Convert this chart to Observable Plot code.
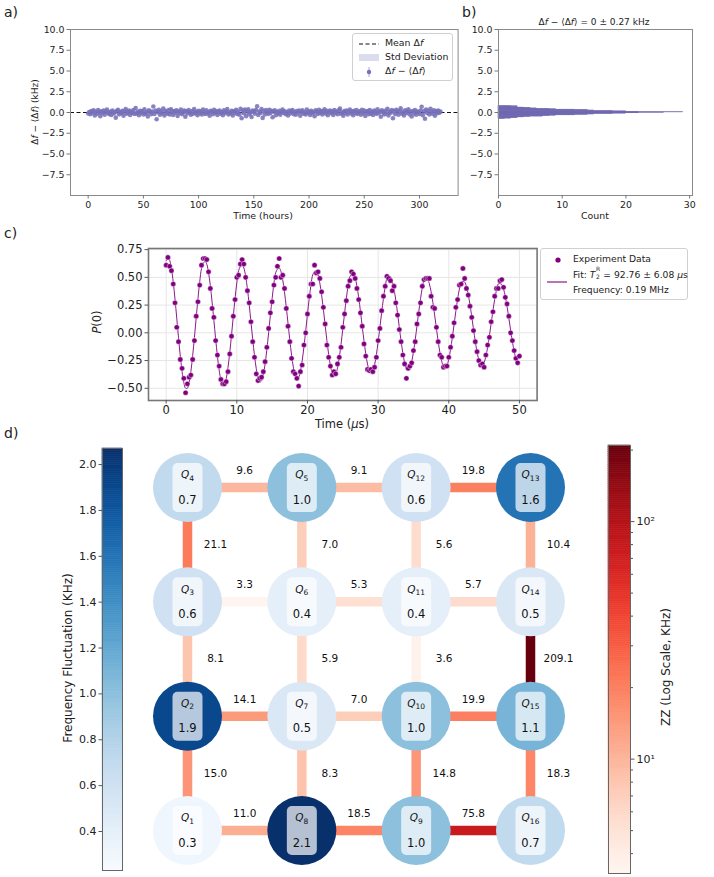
<!DOCTYPE html>
<html><head><meta charset="utf-8">
<script src="https://cdn.jsdelivr.net/npm/d3@7"></script>
<script src="https://cdn.jsdelivr.net/npm/@observablehq/plot@0.6"></script>
<style>
body{margin:0;background:#fff;}
#root{position:relative;width:714px;height:877px;font-family:"DejaVu Sans",sans-serif;color:#222;overflow:hidden;background:#fff}
.abs{position:absolute}
.lbl{position:absolute;white-space:nowrap;font-family:"DejaVu Sans",sans-serif;color:#222;line-height:1}
.box{position:absolute;border:1px solid #d0d0d0;border-radius:3px;background:rgba(255,255,255,0.85);font-family:"DejaVu Sans",sans-serif;color:#222}
.box .row{position:absolute;left:0;white-space:nowrap;line-height:1}
</style></head><body><div id="root"></div>
<script>
// ---------------- DATA ----------------
// a) frequency drift vs time (one point per hour)
const driftStartHour = 0, driftStepHour = 1;
const driftKHz = [
-0.12,0.05,-0.21,0.18,-0.03,0.27,-0.35,0.09,-0.16,0.31,0.02,-0.44,0.14,-0.08,0.22,-0.27,0.11,0.36,-0.05,-0.19,
0.08,-0.31,0.25,-0.12,0.04,-0.62,0.17,0.33,-0.22,0.06,-0.09,0.19,-0.38,0.13,0.42,-0.15,0.01,0.24,-0.29,0.10,
-0.06,0.29,-0.18,0.55,-0.11,0.07,-0.33,0.21,-0.04,0.16,-0.24,0.38,-0.13,0.03,-0.47,0.26,0.09,-0.20,0.12,0.72,
-0.17,0.23,-0.81,0.05,0.34,-0.26,0.14,-0.09,0.48,-0.36,0.20,0.02,-0.14,0.31,-0.23,0.40,0.08,-0.30,0.17,-0.02,
0.26,-0.42,0.11,-0.07,0.35,-0.19,0.04,0.22,-0.50,0.15,-0.10,0.30,0.01,-0.28,0.18,-0.15,0.43,-0.05,0.09,-0.34,
0.21,-0.08,0.13,-0.25,0.37,0.00,-0.18,0.27,-0.12,0.06,-0.39,0.19,0.10,-0.21,0.32,-0.03,0.16,-0.29,0.08,0.24,
-0.14,0.05,-0.32,0.28,-0.06,0.12,0.41,-0.23,0.03,-0.11,0.20,-0.37,0.15,-0.02,0.33,-0.17,0.07,-0.26,0.45,-0.70,
0.22,-0.09,0.36,-0.44,0.14,0.39,-0.20,0.04,-0.55,0.25,0.10,-0.13,0.30,0.76,-0.31,0.12,-0.05,0.43,-0.65,0.18,
-0.24,0.29,0.02,-0.16,0.34,-0.07,0.20,-0.58,0.11,0.26,-0.33,0.05,-0.12,0.19,-0.27,0.08,0.37,-0.04,0.15,-0.21,
0.03,-0.36,0.23,-0.10,0.13,0.31,-0.19,0.06,-0.28,0.17,-0.01,0.24,-0.40,0.09,0.28,-0.14,0.02,-0.23,0.35,-0.06,
0.12,-0.30,0.21,-0.08,0.04,-0.45,0.27,0.10,-0.17,0.33,-0.02,0.16,-0.25,0.07,0.40,-0.12,0.19,-0.34,0.05,0.23,
-0.09,0.14,-0.29,0.30,-0.03,0.11,-0.21,0.26,0.47,-0.15,0.01,-0.38,0.18,-0.07,0.25,-0.24,0.09,0.36,-0.11,0.13,
-0.33,0.20,-0.05,0.29,-0.18,0.06,0.15,-0.27,0.34,-0.10,0.22,-0.42,0.03,0.17,-0.20,0.31,-0.14,0.08,-0.31,0.24,
0.02,-0.16,0.38,-0.08,0.12,-0.52,0.27,0.05,-0.23,0.19,-0.12,0.44,-0.35,0.10,-0.02,0.29,-0.69,0.16,-0.19,0.33,
0.07,-0.26,0.21,0.52,-0.13,0.04,-0.37,0.26,-0.06,0.14,0.39,-0.22,0.09,-0.48,0.18,-0.10,0.30,-0.28,0.11,0.03,
-0.17,0.25,0.70,-0.32,0.13,-0.76,0.35,-0.05,0.20,-0.24,0.45,0.06,-0.14,0.27,-0.40,0.16,-0.08,0.22,-0.02,0.10];
const driftErrKHz = 0.12;
const driftMeanKHz = 0;
const driftStdKHz = 0.27;
const driftXTicks = [0,50,100,150,200,250,300];
const driftYTicks = [-7.5,-5,-2.5,0,2.5,5,7.5,10];

// b) histogram of drift
const histBinStart = -0.80, histBinWidth = 0.05;
const histCounts = [1,2,3,3,4,5,7,8,9,12,14,15,18,20,22,26,29,22,20,18,15,14,12,9,8,6,5,4,3,3,2,3];
const histXTicks = [0,10,20,30];

// c) Ramsey measurement
const ramseyStepUs = 0.25;
const ramseyP0 = [
0.61,0.68,0.60,0.56,0.44,0.27,0.05,-0.08,-0.24,-0.32,-0.41,-0.54,-0.46,-0.40,-0.38,-0.24,-0.07,0.15,0.28,0.43,0.61,
0.67,0.67,0.66,0.55,0.40,0.22,0.14,-0.07,-0.20,-0.30,-0.42,-0.46,-0.46,-0.44,-0.35,-0.19,-0.03,0.15,0.30,0.50,0.52,
0.62,0.66,0.62,0.50,0.38,0.27,0.10,-0.08,-0.22,-0.37,-0.43,-0.41,-0.40,-0.35,-0.26,-0.13,0.04,0.18,0.28,0.43,0.50,
0.60,0.67,0.50,0.52,0.40,0.22,0.06,-0.08,-0.23,-0.35,-0.37,-0.41,-0.48,-0.35,-0.29,-0.11,0.00,0.17,0.33,0.44,0.44,
0.61,0.54,0.55,0.49,0.37,0.23,0.08,-0.11,-0.22,-0.30,-0.38,-0.35,-0.37,-0.28,-0.22,-0.13,0.05,0.17,0.29,0.42,0.47,
0.55,0.53,0.49,0.40,0.30,0.18,0.06,-0.10,-0.21,-0.33,-0.34,-0.33,-0.35,-0.31,-0.22,-0.07,0.04,0.20,0.33,0.42,0.51,
0.49,0.47,0.38,0.42,0.27,0.16,0.03,-0.08,-0.20,-0.28,-0.41,-0.32,-0.30,-0.27,-0.16,-0.08,0.08,0.17,0.27,0.42,0.48,
0.49,0.49,0.49,0.33,0.23,0.22,0.05,-0.08,-0.20,-0.22,-0.31,-0.30,-0.30,-0.22,-0.13,-0.03,0.09,0.23,0.30,0.43,0.44,
0.58,0.49,0.40,0.34,0.24,0.14,0.02,-0.08,-0.17,-0.25,-0.29,-0.28,-0.31,-0.20,-0.11,-0.04,0.10,0.19,0.33,0.40,0.40,
0.47,0.48,0.41,0.32,0.26,0.15,0.00,-0.07,-0.16,-0.23,-0.27,-0.21];
const ramseyFit = [
0.649,0.677,0.653,0.577,0.458,0.305,0.132,-0.045,-0.210,-0.348,-0.448,-0.500,-0.500,-0.447,-0.347,-0.207,-0.042,0.135,0.307,0.460,0.578,
0.623,0.645,0.618,0.542,0.426,0.279,0.114,-0.053,-0.207,-0.336,-0.426,-0.471,-0.466,-0.412,-0.313,-0.178,-0.020,0.148,0.310,0.451,0.560,
0.598,0.614,0.584,0.509,0.396,0.255,0.098,-0.059,-0.204,-0.322,-0.405,-0.443,-0.433,-0.378,-0.281,-0.151,0.000,0.159,0.311,0.443,0.542,
0.573,0.585,0.552,0.477,0.367,0.232,0.084,-0.065,-0.200,-0.309,-0.383,-0.415,-0.402,-0.346,-0.251,-0.126,0.018,0.168,0.311,0.433,0.524,
0.550,0.557,0.522,0.447,0.341,0.212,0.071,-0.069,-0.195,-0.295,-0.362,-0.389,-0.373,-0.316,-0.223,-0.102,0.035,0.176,0.310,0.424,0.506,
0.527,0.530,0.494,0.420,0.317,0.193,0.059,-0.072,-0.190,-0.282,-0.342,-0.364,-0.345,-0.288,-0.198,-0.081,0.049,0.184,0.309,0.414,0.490,
0.505,0.504,0.466,0.394,0.294,0.176,0.049,-0.075,-0.184,-0.269,-0.322,-0.339,-0.317,-0.260,-0.172,-0.061,0.063,0.190,0.307,0.404,0.472,
0.484,0.481,0.441,0.370,0.274,0.160,0.040,-0.077,-0.178,-0.256,-0.304,-0.317,-0.293,-0.236,-0.150,-0.043,0.076,0.195,0.304,0.395,0.456,
0.464,0.457,0.417,0.347,0.254,0.146,0.032,-0.077,-0.172,-0.243,-0.285,-0.294,-0.269,-0.212,-0.129,-0.026,0.087,0.199,0.301,0.384,0.440,
0.444,0.435,0.395,0.326,0.236,0.133,0.025,-0.078,-0.166,-0.231,-0.268,-0.273];
const ramseyXTicks = [0,10,20,30,40,50];
const ramseyYTicks = [-0.5,-0.25,0,0.25,0.5,0.75];

// d) qubit lattice
const qubitIds   = [4,5,12,13, 3,6,11,14, 2,7,10,15, 1,8,9,16];
const qubitCol   = [0,1,2,3, 0,1,2,3, 0,1,2,3, 0,1,2,3];
const qubitRow   = [0,0,0,0, 1,1,1,1, 2,2,2,2, 3,3,3,3];
const qubitFluct = [0.7,1.0,0.6,1.6, 0.6,0.4,0.4,0.5, 1.9,0.5,1.0,1.1, 0.3,2.1,1.0,0.7];
const couplerA  = [4,5,12, 3,6,11, 2,7,10, 1,8,9, 4,3,2, 5,6,7, 12,11,10, 13,14,15];
const couplerB  = [5,12,13, 6,11,14, 7,10,15, 8,9,16, 3,2,1, 6,7,8, 11,10,9, 14,15,16];
const couplerZZ = [9.6,9.1,19.8, 3.3,5.3,5.7, 14.1,7.0,19.9, 11.0,18.5,75.8, 21.1,8.1,15.0, 7.0,5.9,8.3, 5.6,3.6,14.8, 10.4,209.1,18.3];
const fluctDomain = [0.23, 2.07];
const fluctTicks = [0.4,0.6,0.8,1.0,1.2,1.4,1.6,1.8,2.0];
const zzDomain = [3.3, 209.1];
const zzMajorTicks = [10,100];
const zzMinorTicks = [4,5,6,7,8,9,20,30,40,50,60,70,80,90,200];

// ---------------- HELPERS ----------------
const root = document.getElementById("root");
const fmt1 = d => d.toFixed(1).replace("-", "\u2212");
const fmt2 = d => d.toFixed(2).replace("-", "\u2212");
function place(el, left, top){ const d=document.createElement("div"); d.className="abs"; d.style.left=left+"px"; d.style.top=top+"px"; d.appendChild(el); root.appendChild(d); return d; }
function label(html, x, y, size, mode){
  const d=document.createElement("div"); d.className="lbl"; d.innerHTML=html;
  d.style.left=x+"px"; d.style.top=y+"px"; d.style.fontSize=size+"px";
  d.style.transform = mode==="rot" ? "translate(-50%,-50%) rotate(-90deg)" : mode==="start" ? "translate(0,-50%)" : "translate(-50%,-50%)";
  root.appendChild(d); return d;
}
const baseStyle = (fs) => ({fontFamily:"DejaVu Sans, sans-serif", fontSize: fs+"px", color:"#222", background:"transparent", overflow:"visible"});

// ---------------- PANEL A ----------------
const driftData = driftKHz.map((v,i)=>({t: driftStartHour + i*driftStepHour, v}));
const plotA = Plot.plot({
  width:462, height:222, marginLeft:70, marginRight:4.4, marginTop:29, marginBottom:27,
  style: baseStyle(9.4),
  x:{domain:[-16,335]}, y:{domain:[-10,10]},
  marks:[
    Plot.areaY(driftData, {x:"t", y1: driftMeanKHz-driftStdKHz, y2: driftMeanKHz+driftStdKHz, fill:"#dcdcef"}),
    Plot.ruleY([driftMeanKHz], {stroke:"#111", strokeDasharray:"4,2.5", strokeWidth:1}),
    Plot.ruleX(driftData, {x:"t", y1: d=>d.v-driftErrKHz, y2: d=>d.v+driftErrKHz, stroke:"#8a85c4", strokeOpacity:0.6}),
    Plot.dot(driftData, {x:"t", y:"v", r:2.3, fill:"#7670b8", fillOpacity:0.85}),
    Plot.frame({stroke:"#8a8a8a"}),
    Plot.axisX(driftXTicks, {tickSize:3.5, tickPadding:2, label:null, stroke:"#777"}),
    Plot.axisY(driftYTicks, {tickSize:3.5, tickPadding:2.5, label:null, tickFormat: fmt1, stroke:"#777"})
  ]
});
place(plotA, 0, 0);

// ---------------- PANEL B ----------------
const bins = histCounts.map((c,i)=>({lo: histBinStart+i*histBinWidth, hi: histBinStart+(i+1)*histBinWidth, c}));
const plotB = Plot.plot({
  width:254, height:222, marginLeft:38, marginRight:22, marginTop:29, marginBottom:27,
  style: baseStyle(9.4),
  x:{domain:[0, d3.max(histCounts)*1.05]}, y:{domain:[-10,10]},
  marks:[
    Plot.rect(bins, {x1:0, x2:"c", y1:"lo", y2:"hi", fill:"#6a63ae", stroke:"#6a63ae", strokeWidth:0.35}),
    Plot.frame({stroke:"#8a8a8a"}),
    Plot.axisX(histXTicks, {tickSize:3.5, tickPadding:2, label:null, stroke:"#777"}),
    Plot.axisY(driftYTicks, {tickSize:3.5, tickPadding:2.5, label:null, tickFormat: fmt1, stroke:"#777"})
  ]
});
place(plotB, 460, 0);

// ---------------- PANEL C ----------------
const ramseyData = ramseyP0.map((p,i)=>({t:i*ramseyStepUs, p}));
const fitData = ramseyFit.map((p,i)=>({t:i*ramseyStepUs, p}));
const plotC = Plot.plot({
  width:540, height:200, marginLeft:148, marginRight:3.4, marginTop:18, marginBottom:30,
  style: baseStyle(11.5),
  x:{domain:[-2.5,52.5]}, y:{domain:[-0.61,0.76]},
  marks:[
    Plot.gridX(ramseyXTicks, {stroke:"#e6e6e6", strokeOpacity:1}),
    Plot.gridY(ramseyYTicks, {stroke:"#e6e6e6", strokeOpacity:1}),
    Plot.line(fitData, {x:"t", y:"p", stroke:"#8b1a8b", strokeWidth:1, curve:"catmull-rom"}),
    Plot.dot(ramseyData, {x:"t", y:"p", r:2.6, fill:"#800080", stroke:"#fff", strokeWidth:0.4}),
    Plot.frame({stroke:"#777", strokeWidth:1.6}),
    Plot.axisX(ramseyXTicks, {tickSize:3.5, tickPadding:2, label:null, stroke:"#555"}),
    Plot.axisY(ramseyYTicks, {tickSize:3.5, tickPadding:2.5, label:null, tickFormat: fmt2, stroke:"#555"})
  ]
});
place(plotC, 0, 230);

// ---------------- PANEL D ----------------
const blue = d3.scaleSequential(d3.interpolateBlues).domain(fluctDomain);
const nodes = qubitIds.map((id,i)=>({id, col:qubitCol[i], row:qubitRow[i], f:qubitFluct[i]}));
const byId = new Map(nodes.map(n=>[n.id,n]));
const edges = couplerZZ.map((zz,i)=>{ const a=byId.get(couplerA[i]), b=byId.get(couplerB[i]); return {a,b,zz, horiz: a.row===b.row}; });
const roundBox = {draw(ctx){ const w=15, h=24.5, r=5;
  ctx.moveTo(-w+r,-h); ctx.lineTo(w-r,-h); ctx.arcTo(w,-h,w,-h+r,r); ctx.lineTo(w,h-r); ctx.arcTo(w,h,w-r,h,r);
  ctx.lineTo(-w+r,h); ctx.arcTo(-w,h,-w,h-r,r); ctx.lineTo(-w,-h+r); ctx.arcTo(-w,-h,-w+r,-h,r); ctx.closePath(); }};
const plotD = Plot.plot({
  width:440, height:437, marginLeft:47, marginRight:50, marginTop:47, marginBottom:47,
  style: baseStyle(10.5),
  x:{domain:[0,3], axis:null}, y:{domain:[0,3], reverse:true, axis:null},
  color:{type:"log", scheme:"reds", domain: zzDomain},
  marks:[
    Plot.link(edges, {x1:d=>d.a.col, y1:d=>d.a.row, x2:d=>d.b.col, y2:d=>d.b.row, stroke:"zz", strokeWidth:9.5}),
    Plot.dot(nodes, {x:"col", y:"row", r:34.5, fill:d=>blue(d.f), stroke:null}),
    Plot.dot(nodes, {x:"col", y:"row", r:1, symbol: roundBox, fill:"#fff", fillOpacity:0.7, stroke:null}),
    Plot.text(nodes, {x:"col", y:"row", text:d=>"Q"+d.id, dy:-12.5, fontSize:10.5, fill:"#111"}),
    Plot.text(nodes, {x:"col", y:"row", text:d=>d.f.toFixed(1), dy:12.5, fontSize:11.5, fill:"#111"}),
    Plot.text(edges.filter(e=>e.horiz), {x:d=>(d.a.col+d.b.col)/2, y:d=>d.a.row, text:d=>d.zz.toFixed(1), dy:-17, fontSize:10.5, fill:"#111"}),
    Plot.text(edges.filter(e=>!e.horiz), {x:d=>d.a.col, y:d=>(d.a.row+d.b.row)/2, text:d=>d.zz.toFixed(1), dx:28, fontSize:10.5, fill:"#111"})
  ]
});
d3.select(plotD).selectAll("text").each(function(){
  const m = /^Q(\d+)$/.exec(this.textContent);
  if (!m) return;
  const el = d3.select(this); el.text(null);
  el.append("tspan").attr("font-style","italic").text("Q");
  el.append("tspan").attr("font-size","7.5px").attr("dy","0.3em").text(m[1]);
});
place(plotD, 140, 440);

// blue colorbar
const nSlices = 200;
const blueSlices = d3.range(nSlices).map(k=>{ const lo=fluctDomain[0]+(fluctDomain[1]-fluctDomain[0])*k/nSlices, hi=fluctDomain[0]+(fluctDomain[1]-fluctDomain[0])*(k+1)/nSlices; return {lo,hi,v:(lo+hi)/2}; });
const plotBlue = Plot.plot({
  width:90, height:437, marginLeft:62, marginRight:8, marginTop:8, marginBottom:7,
  style: baseStyle(11),
  x:{domain:[0,1], axis:null}, y:{domain:fluctDomain},
  color:{type:"linear", scheme:"blues", domain:fluctDomain},
  marks:[
    Plot.rect(blueSlices, {x1:0, x2:1, y1:"lo", y2:"hi", fill:"v", stroke:"v", strokeWidth:0.6}),
    Plot.frame({stroke:"#666"}),
    Plot.axisY(fluctTicks, {anchor:"left", tickSize:3.5, tickPadding:2.5, label:null, tickFormat: fmt1, stroke:"#555"})
  ]
});
place(plotBlue, 40, 440);

// red colorbar
const lz0 = Math.log(zzDomain[0]), lz1 = Math.log(zzDomain[1]);
const redSlices = d3.range(nSlices).map(k=>{ const lo=Math.exp(lz0+(lz1-lz0)*k/nSlices), hi=Math.exp(lz0+(lz1-lz0)*(k+1)/nSlices); return {lo,hi,v:Math.sqrt(lo*hi)}; });
const sup = {10:"10\u00b9", 100:"10\u00b2"};
const plotRed = Plot.plot({
  width:114, height:437, marginLeft:8, marginRight:84, marginTop:5, marginBottom:4,
  style: baseStyle(11),
  x:{domain:[0,1], axis:null}, y:{type:"log", domain:zzDomain},
  color:{type:"log", scheme:"reds", domain:zzDomain},
  marks:[
    Plot.rect(redSlices, {x1:0, x2:1, y1:"lo", y2:"hi", fill:"v", stroke:"v", strokeWidth:0.6}),
    Plot.frame({stroke:"#666"}),
    Plot.axisY(zzMinorTicks, {anchor:"right", tickSize:2, label:null, tickFormat:()=>"", stroke:"#555"}),
    Plot.axisY(zzMajorTicks, {anchor:"right", tickSize:3.5, tickPadding:2.5, label:null, tickFormat:d=>sup[d], stroke:"#555"})
  ]
});
place(plotRed, 600, 440);

// ---------------- TEXT / LEGENDS ----------------
label("a)", 4, 12, 14, "start");
label("b)", 462, 12, 14, "start");
label("c)", 4, 233, 14, "start");
label("d)", 4, 433, 14, "start");

label("Δ<i>f</i> − ⟨Δ<i>f</i>⟩ (kHz)", 35, 112, 9, "rot");
label("Time (hours)", 263, 216, 9.4);
label("Count", 595, 216, 9.4);
label("Δ<i>f</i> − ⟨Δ<i>f</i>⟩ = 0 ± 0.27 kHz", 594, 22, 9);
label("<i>P</i>(0)", 98, 322, 11.5, "rot");
label("Time (<i>μ</i>s)", 342, 425, 11.5);
label("Frequency Fluctuation (KHz)", 68, 658, 12, "rot");
label("ZZ (Log Scale, KHz)", 666, 667, 12, "rot");

// legend a
const legA = document.createElement("div"); legA.className="box";
Object.assign(legA.style,{left:"352px",top:"33px",width:"99px",height:"46px",fontSize:"9.4px"});
legA.innerHTML =
 `<div class="row" style="top:4px"><svg width="24" height="10" style="vertical-align:middle;margin-left:5px"><line x1="1" y1="5" x2="21" y2="5" stroke="#111" stroke-dasharray="4,2.5"/></svg><span style="margin-left:3px">Mean Δ<i>f</i></span></div>`+
 `<div class="row" style="top:18px"><svg width="24" height="10" style="vertical-align:middle;margin-left:5px"><rect x="1" y="1" width="20" height="7" fill="#dcdcef"/></svg><span style="margin-left:3px">Std Deviation</span></div>`+
 `<div class="row" style="top:32px"><svg width="24" height="10" style="vertical-align:middle;margin-left:5px"><line x1="11" y1="0" x2="11" y2="10" stroke="#8a85c4" stroke-opacity="0.7"/><circle cx="11" cy="5" r="2.2" fill="#7670b8"/></svg><span style="margin-left:3px">Δ<i>f</i> − ⟨Δ<i>f</i>⟩</span></div>`;
root.appendChild(legA);

// legend c
const legC = document.createElement("div"); legC.className="box";
Object.assign(legC.style,{left:"540px",top:"248px",width:"146px",height:"50px",fontSize:"9.2px"});
legC.innerHTML =
 `<div class="row" style="top:5px"><svg width="26" height="10" style="vertical-align:middle;margin-left:4px"><circle cx="13" cy="5" r="2.6" fill="#800080"/></svg><span style="margin-left:2px">Experiment Data</span></div>`+
 `<svg width="22" height="4" style="position:absolute;left:6px;top:31px"><line x1="0" y1="2" x2="20" y2="2" stroke="#8b1a8b" stroke-width="1.2"/></svg>`+
 `<div class="row" style="left:32px;top:20px">Fit: <i>T</i><span style="display:inline-block;position:relative;width:5px;height:1em;vertical-align:baseline"><span style="position:absolute;left:0.5px;top:-3px;font-size:6px">R</span><span style="position:absolute;left:0.5px;top:5px;font-size:6px">2</span></span> = 92.76 ± 6.08 <i>μ</i>s</div>`+
 `<div class="row" style="left:32px;top:36px">Frequency: 0.19 MHz</div>`;
root.appendChild(legC);
</script>
</body></html>
